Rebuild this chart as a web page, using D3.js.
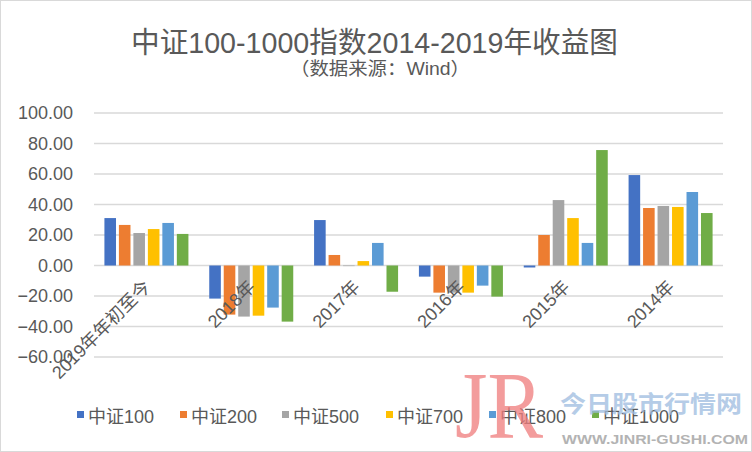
<!DOCTYPE html>
<html><head><meta charset="utf-8">
<script src="https://cdn.jsdelivr.net/npm/d3@7"></script>
<style>body{margin:0;background:#fff}svg{display:block}text{font-family:"Liberation Sans","Noto Sans CJK SC",sans-serif}</style>
</head><body>
<svg id="c" width="752" height="452"></svg>
<script>
const categories = ["2019年年初至今","2018年","2017年","2016年","2015年","2014年"];
const seriesNames = ["中证100","中证200","中证500","中证700","中证800","中证1000"];
const s100  = [31.1, -21.7, 29.8, -7.3, -1.3, 59.3];
const s200  = [26.6, -32.2, 6.9, -17.8, 20.0, 37.7];
const s500  = [21.3, -33.5, -0.4, -17.8, 42.9, 39.0];
const s700  = [23.9, -32.9, 2.9, -17.8, 31.1, 38.4];
const s800  = [27.9, -27.6, 14.8, -13.2, 14.8, 48.2];
const s1000 = [20.7, -36.8, -17.2, -20.4, 75.7, 34.4];
const yTicks = [100, 80, 60, 40, 20, 0, -20, -40, -60];
const colors = ["#4472C4","#ED7D31","#A5A5A5","#FFC000","#5B9BD5","#70AD47"];
const seriesVals = [s100, s200, s500, s700, s800, s1000];

const svg = d3.select("#c");
svg.append("rect").attr("x",0.5).attr("y",0.5).attr("width",751).attr("height",451)
  .attr("fill","#fff").attr("stroke","#d9d9d9");

const x0 = d3.scaleBand().domain(categories).range([94, 723]);
const x1 = d3.scaleBand().domain(seriesNames).range([0, 84]).paddingInner(0.2);
const y = d3.scaleLinear().domain([-60, 100]).range([357, 113]);

// gridlines
svg.append("g").selectAll("line").data(yTicks).join("line")
  .attr("x1", 94).attr("x2", 723)
  .attr("y1", d => y(d)).attr("y2", d => y(d))
  .attr("stroke", "#d9d9d9").attr("stroke-width", 1.3);

// y axis labels
const yAxis = d3.axisLeft(y).tickValues(yTicks).tickFormat(d3.format(".2f")).tickSize(0).tickPadding(0);
const ga = svg.append("g").attr("transform","translate(73,0)").call(yAxis);
ga.select(".domain").remove();
ga.selectAll("text").attr("font-size",18).attr("fill","#595959")
  .style("font-family",'"Liberation Sans","Noto Sans CJK SC",sans-serif');

// bars
const groups = svg.append("g").selectAll("g").data(categories).join("g")
  .attr("transform", c => `translate(${x0(c) + x0.bandwidth()/2 - 42},0)`);
groups.selectAll("rect").data((c, i) => seriesNames.map((s, j) => ({s, v: seriesVals[j][i], j})))
  .join("rect")
  .attr("x", d => x1(d.s))
  .attr("width", x1.bandwidth())
  .attr("y", d => Math.min(y(d.v), y(0)))
  .attr("height", d => Math.abs(y(d.v) - y(0)))
  .attr("fill", d => colors[d.j]);

// x labels
svg.append("g").selectAll("text").data(categories).join("text")
  .attr("transform", c => `translate(${x0(c) + x0.bandwidth()/2 + 5},288) rotate(-45)`)
  .attr("text-anchor","end")
  .attr("font-size",18).attr("fill","#595959")
  .text(c => c);

// title
svg.append("text").attr("x",131).attr("y",53)
  .attr("font-size",29).attr("fill","#595959")
  .attr("textLength",487).attr("lengthAdjust","spacingAndGlyphs")
  .text("中证100-1000指数2014-2019年收益图");
svg.append("text").attr("x",290).attr("y",75)
  .attr("font-size",18).attr("fill","#595959")
  .attr("textLength",180).attr("lengthAdjust","spacingAndGlyphs")
  .text("（数据来源：Wind）");

// legend
const legX = [77, 180, 282, 386, 489, 592];
const lg = svg.append("g").selectAll("g").data(seriesNames).join("g")
  .attr("transform", (d, i) => `translate(${legX[i]},417)`);
lg.append("rect").attr("x",0).attr("y",-6).attr("width",7).attr("height",7).attr("fill",(d,i)=>colors[i]);
lg.append("text").attr("x",11).attr("y",0).attr("dy","0.32em").attr("font-size",18).attr("fill","#595959").text(d=>d);

// watermark
const wm = svg.append("g").attr("opacity",0.75);
wm.append("text").attr("x",455).attr("y",438).attr("font-size",96)
  .attr("textLength",88).attr("lengthAdjust","spacingAndGlyphs")
  .style("font-family",'"Liberation Serif",serif').attr("fill","#f07c7c").text("JR");
wm.append("text").attr("x",560).attr("y",412).attr("font-size",23).attr("font-weight","bold")
  .attr("textLength",182).attr("lengthAdjust","spacingAndGlyphs")
  .attr("fill","#9dbbe0").text("今日股市行情网");
wm.append("text").attr("x",562).attr("y",444).attr("font-size",13.5).attr("font-weight","bold")
  .attr("textLength",186).attr("lengthAdjust","spacingAndGlyphs")
  .attr("fill","#9a9a9a").text("WWW.JINRI-GUSHI.COM");
</script>
</body></html>
